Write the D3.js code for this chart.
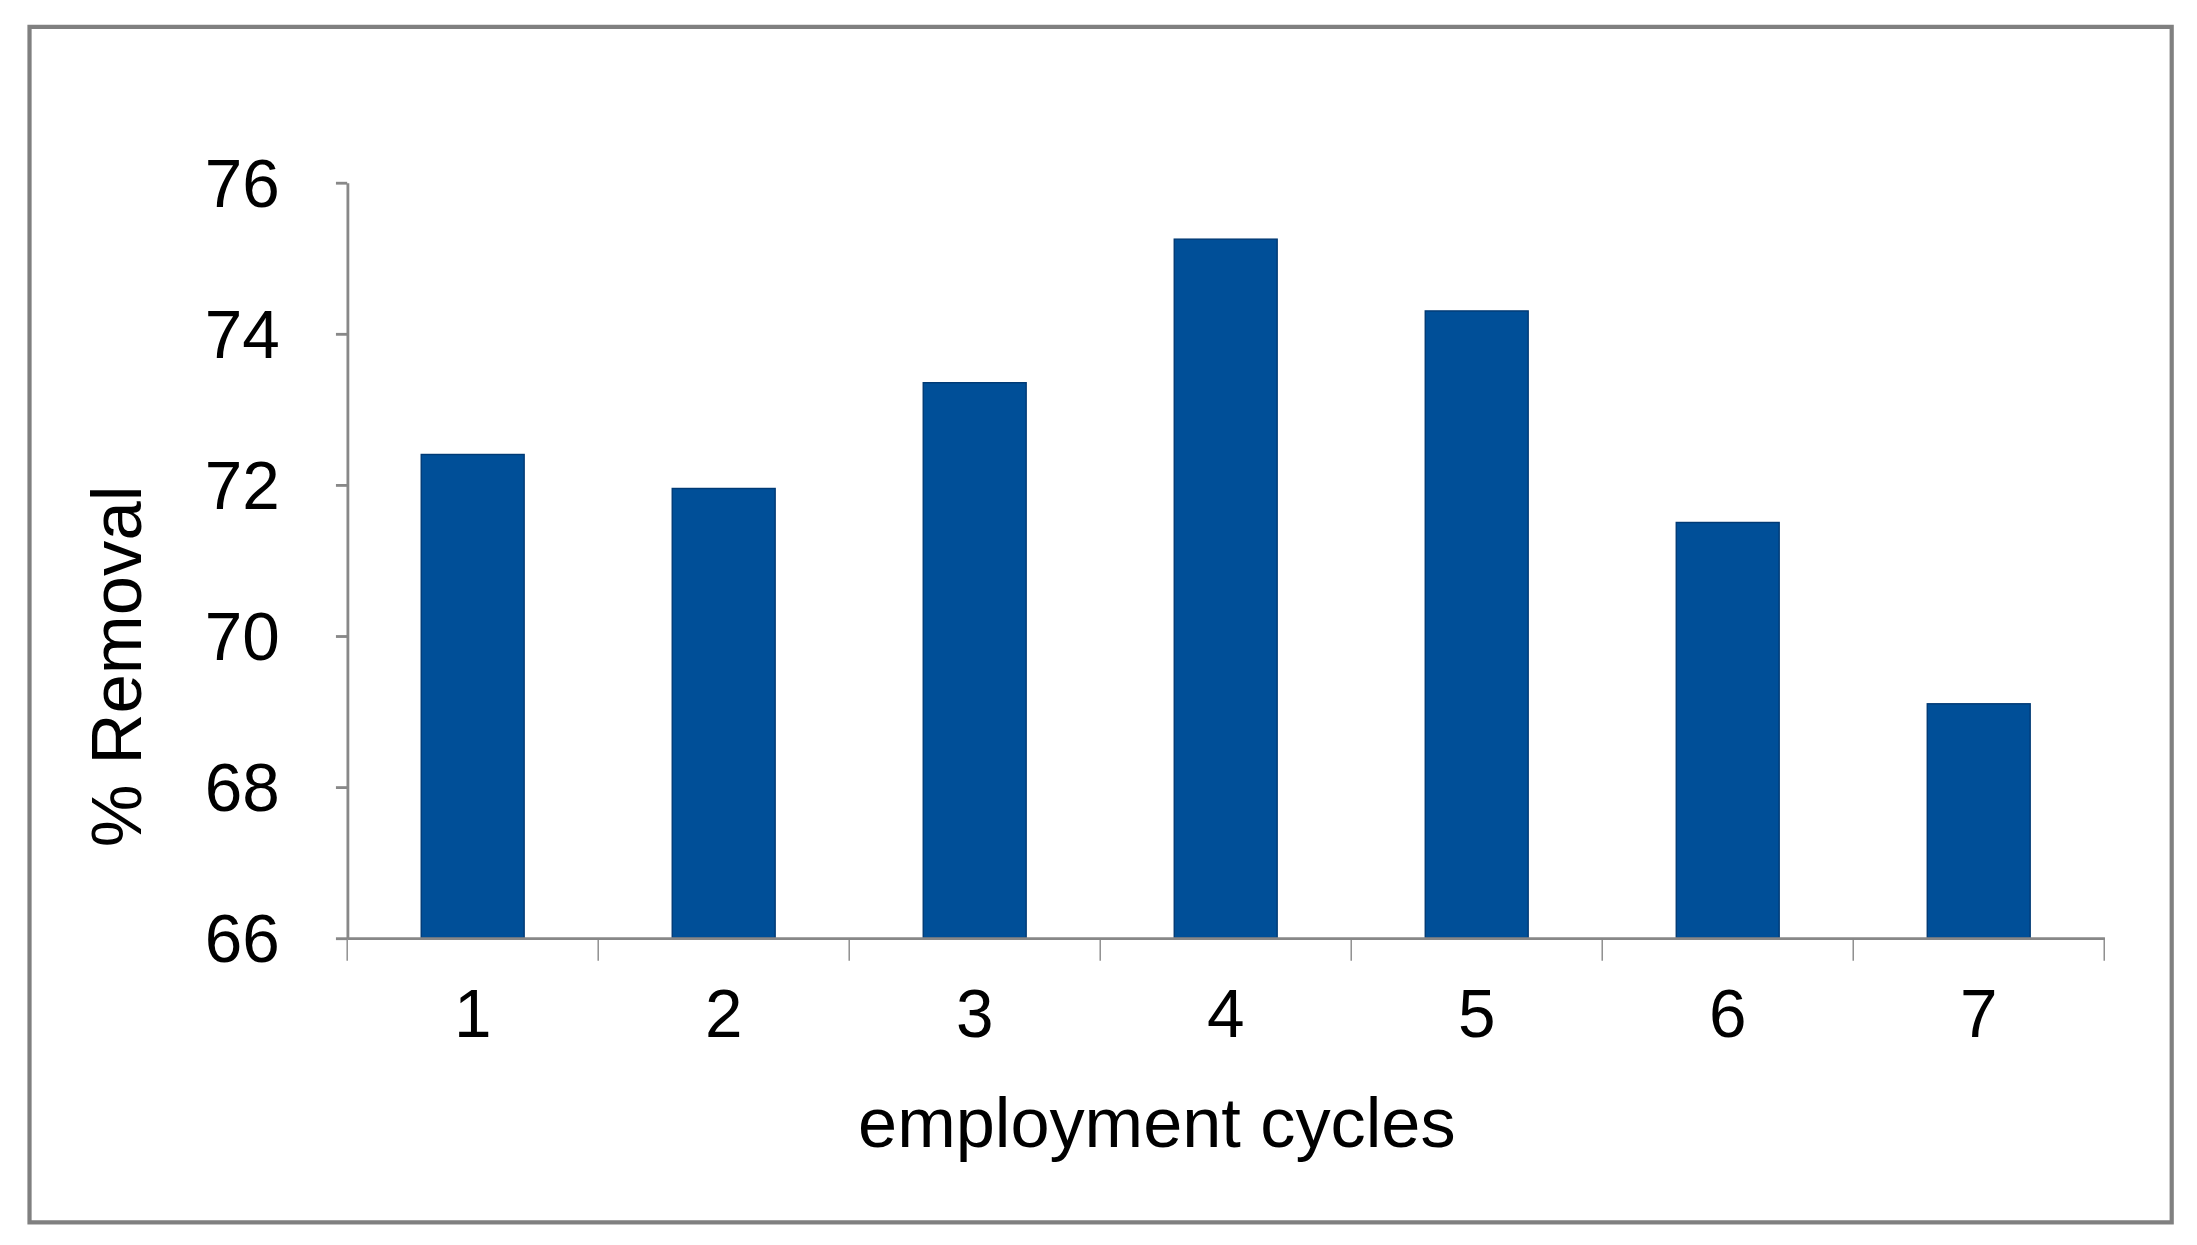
<!DOCTYPE html>
<html><head><meta charset="utf-8">
<script src="https://cdn.jsdelivr.net/npm/d3@7"></script>
<style>body{margin:0;background:#fff}svg{display:block}</style>
</head><body>
<script>
const categories = ["1","2","3","4","5","6","7"];
const values = [72.4, 71.95, 73.35, 75.25, 74.3, 71.5, 69.1];
const yTicks = [66, 68, 70, 72, 74, 76];

const svg = d3.select("body").append("svg")
  .attr("width", 2197).attr("height", 1245)
  .attr("viewBox", "0 0 1563 880").attr("preserveAspectRatio", "none");

svg.append("rect").attr("x", 21).attr("y", 19).attr("width", 1524).attr("height", 845)
  .attr("fill", "#fff").attr("stroke", "#808080").attr("stroke-width", 3);

const x = d3.scaleBand().domain(categories).range([247, 1497]).paddingInner(0.59).paddingOuter(0.295);
const y = d3.scaleLinear().domain([66, 76]).range([663, 129]);

svg.selectAll(".bar").data(values).enter().append("rect")
  .attr("x", (d, i) => x(categories[i])).attr("width", x.bandwidth())
  .attr("y", d => y(d)).attr("height", d => y(66) - y(d))
  .attr("fill", "#004f98").attr("stroke", "#003a75").attr("stroke-width", 1);

const font = "'Liberation Sans', Arial, sans-serif";
const ya = svg.append("g").attr("transform", "translate(247,0)")
  .call(d3.axisLeft(y).tickValues(yTicks).tickSize(8).tickPadding(40).tickSizeOuter(0));
ya.selectAll("text").attr("font-size", 48).attr("font-family", font).attr("fill", "#000").attr("dy", "0.35em");

const xa = svg.append("g").attr("transform", "translate(0,663)")
  .call(d3.axisBottom(x).tickSize(0).tickPadding(36).tickSizeOuter(0));
xa.selectAll("text").attr("font-size", 48).attr("font-family", font).attr("fill", "#000");
const bounds = categories.map(c => x(c) - x.step() * x.paddingInner() / 2).concat([1497]);
xa.selectAll(".sep").data(bounds).enter().append("line")
  .attr("x1", d => d).attr("x2", d => d).attr("y1", 0).attr("y2", 16).attr("stroke", "#888");
svg.selectAll(".domain, .tick line").attr("stroke", "#888").attr("stroke-width", 2);

svg.append("text").attr("x", 823).attr("y", 811).attr("text-anchor", "middle")
  .attr("font-size", 50).attr("font-family", font).text("employment cycles");
svg.append("text").attr("transform", "translate(100,471) rotate(-90)").attr("text-anchor", "middle")
  .attr("font-size", 50).attr("font-family", font).text("% Removal");
</script>
</body></html>
